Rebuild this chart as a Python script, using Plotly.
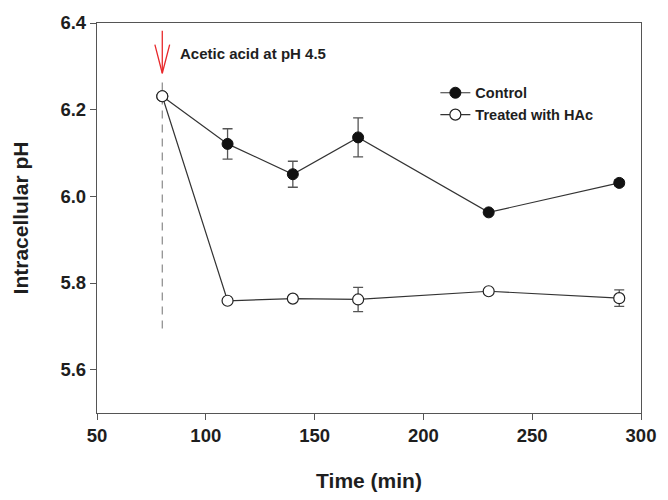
import plotly.graph_objects as go

# Data
time_min = [80, 110, 140, 170, 230, 290]
control_ph = [6.231, 6.121, 6.051, 6.136, 5.963, 6.031]
control_err = [0.0, 0.035, 0.030, 0.045, 0.005, 0.007]
treated_ph = [6.231, 5.759, 5.764, 5.762, 5.781, 5.765]
treated_err = [0.0, 0.0, 0.004, 0.028, 0.004, 0.019]

event_time = 80
event_label = "Acetic acid at pH 4.5"
dash_range = [5.695, 6.268]
arrow_range = [6.284, 6.382]
label_y = 6.33

x_ticks = [50, 100, 150, 200, 250, 300]
y_ticks = [5.6, 5.8, 6.0, 6.2, 6.4]

FONT = "Arial, Liberation Sans, sans-serif"
LINE = "#333333"
TXT = "#1e1e1e"

fig = go.Figure()

# dashed vertical line at event
fig.add_trace(go.Scatter(
    x=[event_time, event_time], y=dash_range, mode="lines",
    line=dict(color="#8a8a8a", width=1.2, dash="8px,6px"),
    showlegend=False, hoverinfo="skip"))

# red arrow (shaft + V head)
fig.add_trace(go.Scatter(
    x=[event_time, event_time], y=arrow_range, mode="lines",
    line=dict(color="#e8282b", width=1.3), showlegend=False, hoverinfo="skip"))
fig.add_trace(go.Scatter(
    x=[event_time - 3.4, event_time, event_time + 3.4],
    y=[arrow_range[0] + 0.066, arrow_range[0], arrow_range[0] + 0.066],
    mode="lines", line=dict(color="#e8282b", width=1.3),
    showlegend=False, hoverinfo="skip"))

fig.add_trace(go.Scatter(
    x=time_min, y=control_ph, name="<b>Control</b>", mode="lines+markers",
    line=dict(color=LINE, width=1.2),
    marker=dict(symbol="circle", size=11, color="#111111",
                line=dict(color="#111111", width=1)),
    error_y=dict(type="data", array=control_err, color="#555555",
                 thickness=1.3, width=5)))

fig.add_trace(go.Scatter(
    x=time_min, y=treated_ph, name="<b>Treated with HAc</b>", mode="lines+markers",
    line=dict(color=LINE, width=1.2),
    marker=dict(symbol="circle", size=11, color="white",
                line=dict(color="#222222", width=1.2)),
    error_y=dict(type="data", array=treated_err, color="#555555",
                 thickness=1.3, width=5)))

fig.add_annotation(x=event_time, y=label_y, xref="x", yref="y",
                   text="<b>" + event_label + "</b>", showarrow=False,
                   xanchor="left", yanchor="middle", xshift=16,
                   font=dict(family=FONT, size=15, color=TXT))

fig.update_layout(
    width=668, height=500,
    margin=dict(l=97, r=20, t=21, b=84),
    paper_bgcolor="white", plot_bgcolor="white",
    font=dict(family=FONT, color=TXT),
    legend=dict(x=0.622, y=0.862, xanchor="left", yanchor="top",
                bgcolor="rgba(0,0,0,0)", borderwidth=0,
                font=dict(family=FONT, size=14.5, color=TXT),
                itemwidth=30, tracegroupgap=0),
    xaxis=dict(range=[50, 300], tickvals=x_ticks,
               ticktext=["<b>%d</b>" % v for v in x_ticks],
               showgrid=False, zeroline=False,
               showline=True, mirror=True, linecolor="#555555", linewidth=1.3,
               ticks="outside", ticklen=6, tickcolor="#555555",
               tickfont=dict(family=FONT, size=18.5, color=TXT),
               title=dict(text="<b>Time (min)</b>", standoff=27,
                          font=dict(family=FONT, size=21, color=TXT))),
    yaxis=dict(range=[5.5, 6.4], tickvals=y_ticks,
               ticktext=["<b>%.1f</b>" % v for v in y_ticks],
               showgrid=False, zeroline=False,
               showline=True, mirror=True, linecolor="#555555", linewidth=1.3,
               ticks="outside", ticklen=6, tickcolor="#555555",
               tickfont=dict(family=FONT, size=18.5, color=TXT),
               title=dict(text="<b>Intracellular pH</b>", standoff=26,
                          font=dict(family=FONT, size=21, color=TXT))),
)

fig.write_html("out.html")
